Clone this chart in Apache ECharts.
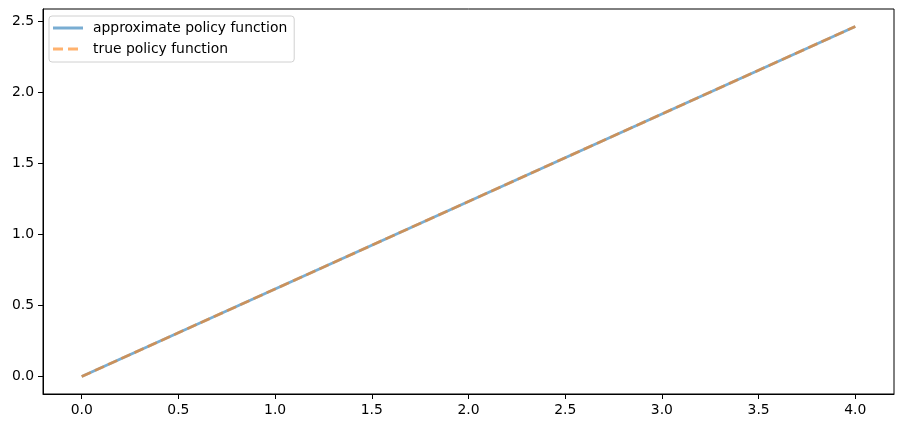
<!DOCTYPE html>
<html>
<head>
<meta charset="utf-8">
<script src="https://cdn.jsdelivr.net/npm/echarts@6/dist/echarts.min.js"></script>
<style>
html,body{margin:0;padding:0;background:#fff;}
#chart{width:904px;height:428px;}
</style>
</head>
<body>
<div id="chart"></div>
<script>
const xValues = [0, 0.5, 1.0, 1.5, 2.0, 2.5, 3.0, 3.5, 4.0];
const approxValues = [0, 0.308, 0.616, 0.924, 1.232, 1.540, 1.848, 2.156, 2.464];
const trueValues = [0, 0.308, 0.616, 0.924, 1.232, 1.540, 1.848, 2.156, 2.464];
const xTicks = [0, 0.5, 1.0, 1.5, 2.0, 2.5, 3.0, 3.5, 4.0];
const yTicks = [0, 0.5, 1.0, 1.5, 2.0, 2.5];
const seriesNames = ['approximate policy function', 'true policy function'];

const font = 'DejaVu Sans';
const chart = echarts.init(document.getElementById('chart'), null, {renderer: 'canvas'});
const pairs = (ys) => xValues.map((x, i) => [x, ys[i]]);
const blue = 'rgba(31,119,180,0.6)';
const orange = 'rgba(255,127,14,0.6)';

chart.setOption({
  animation: false,
  textStyle: {fontFamily: font},
  grid: {left: 43, right: 10, top: 9, bottom: 34, show: true, borderColor: '#000', borderWidth: 1, backgroundColor: 'transparent'},
  legend: {
    left: 49, top: 16, orient: 'vertical',
    itemWidth: 30, itemHeight: 3, itemGap: 5,
    padding: [4, 7, 5, 4],
    backgroundColor: '#fff', borderColor: '#d0d0d0', borderWidth: 1, borderRadius: 3,
    textStyle: {fontFamily: font, fontSize: 13.9, color: '#000', padding: [0, 0, 0, 5], lineHeight: 16},
    data: [
      {name: seriesNames[0], icon: 'path://M0,0h30v3h-30z', itemStyle: {color: blue}},
      {name: seriesNames[1], icon: 'path://M0,0h10v3h-10z M15,0h10v3h-10z M30,0h0v3h0z', itemStyle: {color: orange}}
    ]
  },
  xAxis: {
    type: 'value', min: -0.2, max: 4.2,
    splitLine: {show: false},
    axisLine: {show: true, onZero: false, lineStyle: {color: '#000', width: 1}},
    axisTick: {show: true, length: 5, customValues: xTicks, lineStyle: {color: '#000'}},
    axisLabel: {customValues: xTicks, margin: 9, fontSize: 13.9, color: '#000', fontFamily: font, formatter: v => v.toFixed(1)}
  },
  yAxis: {
    type: 'value', min: -0.123, max: 2.587,
    splitLine: {show: false},
    axisLine: {show: true, onZero: false, lineStyle: {color: '#000', width: 1}},
    axisTick: {show: true, length: 5, customValues: yTicks, lineStyle: {color: '#000'}},
    axisLabel: {customValues: yTicks, margin: 9, fontSize: 13.9, color: '#000', fontFamily: font, formatter: v => v.toFixed(1)}
  },
  series: [
    {name: seriesNames[0], type: 'line', data: pairs(approxValues), symbol: 'none', showSymbol: false,
     lineStyle: {color: '#1f77b4', width: 2.8, opacity: 0.6}, itemStyle: {color: blue}},
    {name: seriesNames[1], type: 'line', data: pairs(trueValues), symbol: 'none', showSymbol: false,
     lineStyle: {color: '#ff7f0e', width: 2.8, opacity: 0.6, type: [10, 4.5]}, itemStyle: {color: orange}}
  ]
});
</script>
</body>
</html>
